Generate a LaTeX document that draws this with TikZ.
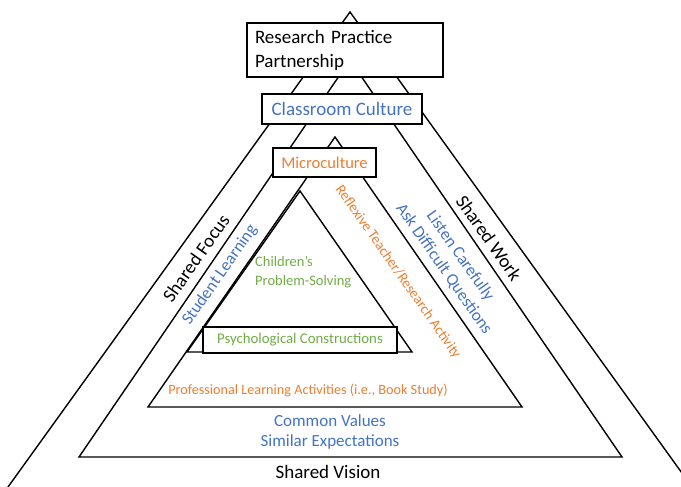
\documentclass[tikz,border=0pt]{standalone}
\usepackage{fontspec}
\setmainfont{Carlito}
\usepackage{xcolor}
\usepackage{tikz}
\usetikzlibrary{positioning}
\definecolor{rppblue}{RGB}{68,114,196}
\definecolor{rpporange}{RGB}{237,125,49}
\definecolor{rppgreen}{RGB}{112,173,71}

\begin{document}
\begin{tikzpicture}[
    x=1pt, y=-1pt,
    tri/.style={draw, line width=1.4pt, line join=miter},
    box/.style={draw, rectangle, line width=1.4pt, fill=white, inner sep=0pt, align=center},
    lbl/.style={inner sep=0pt, align=center},
    big/.style={font=\fontsize{19}{24}\selectfont},
    mid/.style={font=\fontsize{17}{20.5}\selectfont},
    small/.style={font=\fontsize{14.5}{19}\selectfont}
]
    \useasboundingbox (0,0) rectangle (681,487);
    \clip (0,0) rectangle (681,487);

    % Triangles
    \coordinate (topA) at (350,12);
    \coordinate (leftA) at (8,487);
    \coordinate (rightA) at (692,487);
    \coordinate (topB) at (350,60);
    \coordinate (leftB) at (79,457);
    \coordinate (rightB) at (622,457);
    \coordinate (topC) at (335,137);
    \coordinate (leftC) at (148,407);
    \coordinate (rightC) at (522,407);
    \coordinate (topD) at (300,191);
    \coordinate (leftD) at (187,352);
    \coordinate (rightD) at (412,352);

    \draw[tri] (leftA) -- (topA) -- (rightA);
    \draw[tri] (leftB) -- (topB) -- (rightB) -- cycle;
    \draw[tri] (leftC) -- (topC) -- (rightC) -- cycle;
    \draw[tri] (leftD) -- (topD) -- (rightD) -- cycle;

    % Boxes
    \node[box, big, minimum width=196pt, minimum height=54pt, text width=180pt, align=left] (rpp) at (345,50) {Research Practice\\Partnership};
    \node[box, big, text=rppblue, minimum width=160pt, minimum height=30pt] (culture) at (342,109) {Classroom Culture};
    \node[box, text=rpporange, font=\fontsize{16.5}{20}\selectfont, minimum width=103pt, minimum height=29pt] (micro) at (324.5,162.5) {Microculture};
    \node[box, text=rppgreen, font=\fontsize{14.8}{18}\selectfont, minimum width=194pt, minimum height=26pt] (psych) at (300,340) {Psychological Constructions};

    % Labels
    \node[lbl, small, text=rppgreen, align=left, anchor=west] (solving) at (255,272) {Children’s\\Problem-Solving};
    \node[lbl, big, rotate=55] (focus) at (196,258) {Shared Focus};
    \node[lbl, mid, text=rppblue, rotate=55] (learning) at (220,275) {Student Learning};
    \node[lbl, small, text=rpporange, rotate=-55] (reflexive) at (398,272) {Reflexive Teacher/Research Activity};
    \node[lbl, mid, text=rppblue, rotate=-55] (listen) at (460,256) {Listen Carefully};
    \node[lbl, mid, text=rppblue, rotate=-55] (ask) at (444,269) {Ask Difficult Questions};
    \node[lbl, big, rotate=-55] (work) at (489,238) {Shared Work};
    \node[lbl, text=rpporange, font=\fontsize{14.2}{18}\selectfont] (book) at (308,391) {Professional Learning Activities (i.e., Book Study)};
    \node[lbl, mid, text=rppblue] (values) at (330,432) {Common Values\\Similar Expectations};
    \node[lbl, big] (vision) at (328,472) {Shared Vision};
\end{tikzpicture}
\end{document}
